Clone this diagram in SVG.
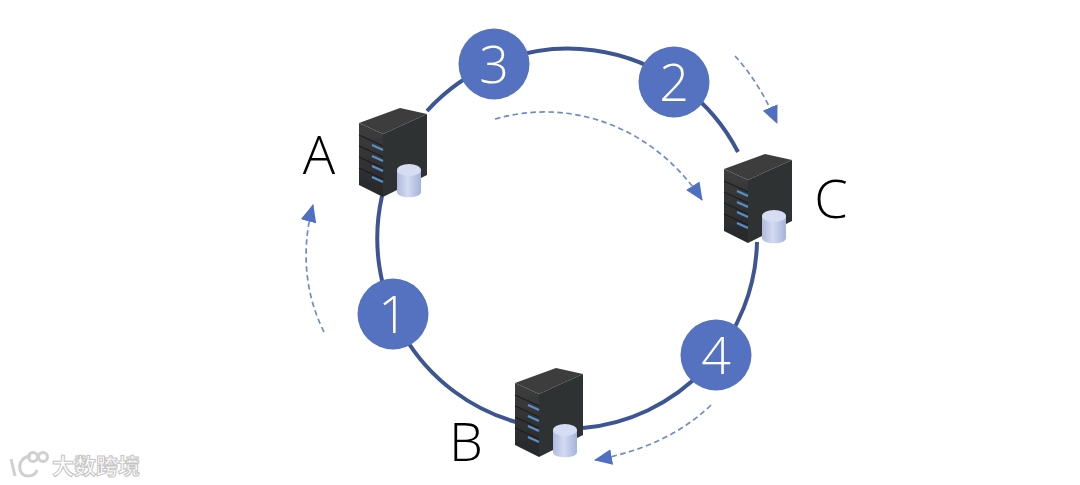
<svg xmlns="http://www.w3.org/2000/svg" width="1080" height="485" viewBox="0 0 1080 485">
<style>
.ring{fill:none;stroke:#3d5592;stroke-width:4;stroke-linecap:butt}
.dash{fill:none;stroke:#7089c8;stroke-width:1.7;stroke-dasharray:5.5 3.5;marker-end:url(#ah)}
.badge{fill:#5472c0}
.num{font-family:"Open Sans","Liberation Sans",sans-serif;font-weight:300;font-size:52px;fill:#fff;text-anchor:middle}
.lab{font-family:"Open Sans","Liberation Sans",sans-serif;font-weight:300;font-size:54px;fill:#000;text-anchor:middle}
.wm{font-family:"Noto Sans CJK SC",sans-serif;font-size:22px;font-weight:700;fill:#fff;stroke:#c4c4c4;stroke-width:1}
.wl{fill:none;stroke:#cfcfcf;stroke-width:3}
</style>
<defs>
<marker id="ah" markerUnits="userSpaceOnUse" markerWidth="20" markerHeight="18" refX="17" refY="8" orient="auto"><path d="M0 0L18 8L0 16Z" fill="#4f70c2"/></marker>
<linearGradient id="cyl" x1="0" x2="1" y1="0" y2="0"><stop offset="0" stop-color="#aebbe0"/><stop offset=".45" stop-color="#d3dbf1"/><stop offset="1" stop-color="#a5b3da"/></linearGradient>
<linearGradient id="front" x1="0" x2="0" y1="0" y2="1"><stop offset="0" stop-color="#3e3e3e"/><stop offset="1" stop-color="#26282a"/></linearGradient>
<filter id="soft" x="-5%" y="-5%" width="110%" height="110%"><feGaussianBlur stdDeviation=".6"/></filter>
<g id="server" filter="url(#soft)">
<path d="M0 15L41 0L68 6L24 26Z" fill="#3d3d3d"/>
<path d="M0 15L24 26V89L0 77Z" fill="url(#front)"/>
<path d="M24 26L68 6V67L24 89Z" fill="#2e3032"/>
<path d="M0 27L24 38M0 38L24 49M0 49L24 60M0 60L24 71" stroke="#1d1e20" stroke-width="1.2" fill="none"/>
<path d="M13 37L24 42M13 48L24 53M13 58L24 63M13 69L24 74" stroke="#5a8fc9" stroke-width="2.2" fill="none"/>
<path d="M38 62V84C38 91 62 91 62 84V62Z" fill="url(#cyl)"/>
<ellipse cx="50" cy="62" rx="12" ry="6" fill="#d6ddf2"/>
</g>
</defs>
<rect width="1080" height="485" fill="#fff"/>
<g id="connectors">
<path class="ring" d="M427 111A191 191 0 0 1 738 152"/>
<path class="ring" d="M757 242A191 191 0 0 1 583 428"/>
<path class="ring" d="M516 422A191 191 0 0 1 382 196"/>
<path class="dash" d="M735 56Q759 82 777 123"/>
<path class="dash" d="M495 119C580 95 660 135 702 200"/>
<path class="dash" d="M324 332C303 290 302 245 313 205"/>
<path class="dash" d="M711 405C680 435 640 452 595 460"/>
</g>
<g id="node-a"><use href="#server" x="359" y="108"/><text class="lab" x="319" y="174">A</text></g>
<g id="node-c"><use href="#server" x="724" y="154"/><text class="lab" x="831" y="218">C</text></g>
<g id="node-b"><use href="#server" x="515" y="368"/><text class="lab" x="466" y="461">B</text></g>
<g id="badge-3"><circle class="badge" cx="494" cy="64" r="35.5"/><text class="num" x="494" y="83">3</text></g>
<g id="badge-2"><circle class="badge" cx="674" cy="82" r="35.5"/><text class="num" x="674" y="101">2</text></g>
<g id="badge-1"><circle class="badge" cx="393" cy="314" r="35.5"/><text class="num" x="393" y="333">1</text></g>
<g id="badge-4"><circle class="badge" cx="716" cy="355" r="35.5"/><text class="num" x="716" y="374">4</text></g>
<g id="watermark">
<path class="wl" d="M11 459L15 476M31 456C17 456 16 476 28 476C33 476 36 473 37 470"/>
<circle class="wl" cx="33" cy="457" r="4.5"/><circle class="wl" cx="43" cy="457" r="4.5"/>
<text class="wm" x="52" y="474">大数跨境</text>
</g>
</svg>
